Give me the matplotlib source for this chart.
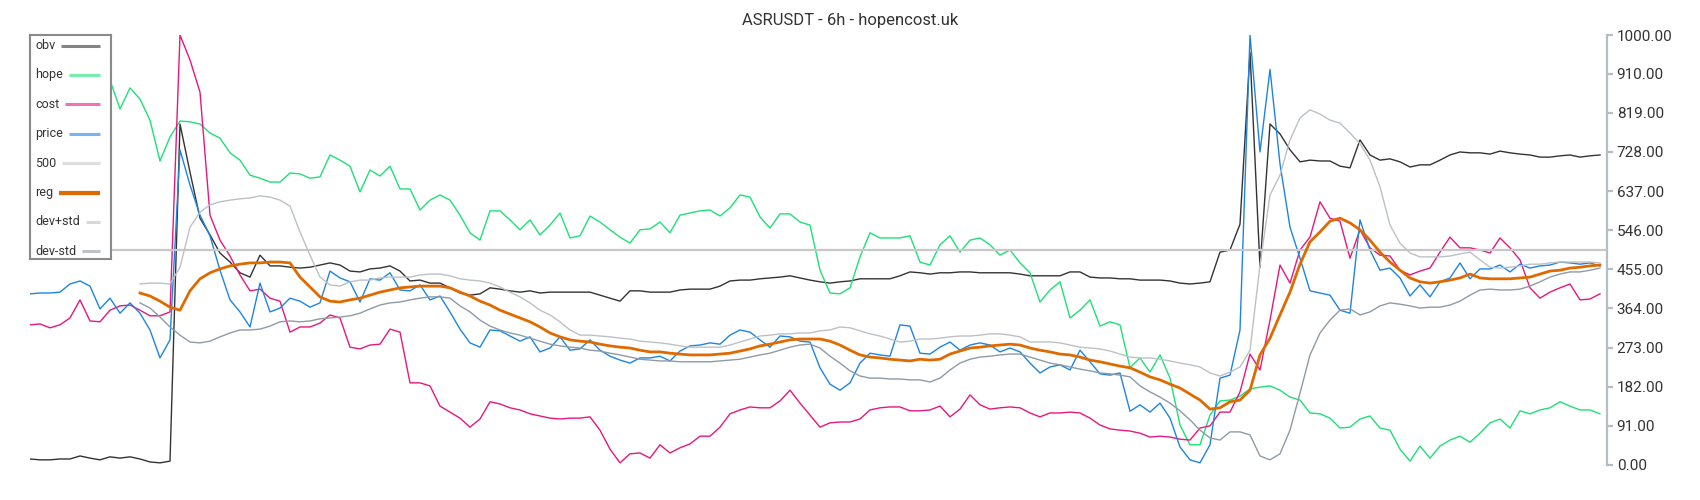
import numpy as np
import matplotlib
matplotlib.use("Agg")
import matplotlib.pyplot as plt
from matplotlib.ticker import FormatStrFormatter

plt.rcParams['font.family'] = ['Roboto', 'DejaVu Sans']

title = "ASRUSDT - 6h - hopencost.uk"
yticks = [0, 91, 182, 273, 364, 455, 546, 637, 728, 819, 910, 1000]

# every value is one sample, spaced evenly along the time axis
obv = [14, 12, 12, 14, 14, 21, 16, 12,
       19, 16, 19, 14, 7, 5, 9, 793, 681, 574,
       535, 493, 472, 447, 437, 488, 463, 463, 460, 458,
       460, 465, 470, 465, 451, 449, 456, 458, 463, 451,
       428, 430, 423, 423, 412, 400, 395, 398, 412, 409,
       405, 402, 405, 400, 402, 402, 402, 402, 402, 395,
       388, 381, 405, 405, 402, 402, 402, 407, 409, 409,
       409, 416, 428, 430, 430, 433, 435, 437, 440, 435,
       430, 426, 423, 426, 428, 433, 433, 433, 433, 440,
       449, 447, 444, 447, 447, 449, 449, 447, 447, 447,
       447, 444, 440, 440, 440, 440, 449, 449, 437, 435,
       435, 433, 433, 430, 430, 430, 428, 423, 421, 423,
       426, 495, 500, 560, 960, 460, 793, 770, 733, 705,
       709, 707, 707, 695, 691, 756, 721, 709, 712, 705,
       693, 698, 698, 709, 721, 728, 726, 726, 723, 730,
       726, 723, 721, 716, 716, 719, 721, 716, 719, 721]

hope = [880, 870, 885, 860, 875, 865, 890, 878,
        895, 828, 877, 851, 802, 707, 763, 800, 798, 793,
        772, 760, 726, 709, 674, 667, 658, 658, 679, 677,
        667, 670, 721, 709, 695, 635, 686, 672, 695, 642,
        642, 593, 616, 628, 616, 581, 540, 523, 591, 591,
        570, 547, 570, 535, 558, 586, 528, 533, 579, 565,
        547, 530, 516, 547, 549, 565, 540, 581, 586, 591,
        593, 579, 598, 628, 623, 577, 551, 584, 584, 565,
        558, 453, 400, 398, 412, 484, 540, 528, 528, 528,
        533, 472, 465, 512, 533, 495, 523, 528, 512, 488,
        500, 470, 447, 379, 407, 426, 342, 360, 384, 323,
        333, 326, 226, 249, 216, 256, 202, 93, 47, 47,
        116, 149, 151, 160, 177, 181, 184, 174, 158, 151,
        121, 119, 109, 86, 88, 107, 114, 86, 81, 37,
        9, 44, 16, 44, 58, 67, 53, 74, 98, 107,
        86, 126, 119, 128, 133, 147, 137, 128, 128, 119]

cost = [326, 328, 319, 326, 342, 384, 335, 333,
        360, 370, 372, 360, 347, 347, 356, 1000, 942, 867,
        581, 523, 486, 442, 405, 409, 388, 381, 309, 321,
        321, 330, 349, 342, 274, 270, 279, 281, 316, 309,
        191, 191, 184, 137, 123, 109, 88, 107, 147, 142,
        133, 128, 119, 114, 109, 107, 109, 109, 112, 81,
        37, 5, 26, 28, 16, 47, 28, 40, 49, 67,
        67, 88, 119, 128, 135, 133, 133, 149, 174, 144,
        116, 88, 98, 100, 100, 107, 128, 133, 135, 135,
        126, 126, 128, 137, 112, 130, 163, 140, 130, 133,
        135, 133, 121, 112, 121, 121, 123, 121, 109, 93,
        84, 81, 79, 74, 65, 67, 65, 60, 58, 86,
        91, 123, 123, 170, 258, 221, 337, 465, 423, 500,
        530, 612, 574, 567, 481, 547, 505, 488, 486, 453,
        442, 451, 458, 495, 530, 505, 505, 500, 493, 528,
        505, 477, 412, 388, 402, 412, 421, 384, 386, 398]

price = [398, 400, 400, 402, 421, 428, 416, 363,
         388, 353, 377, 353, 314, 249, 291, 733, 651, 581,
         533, 453, 384, 356, 321, 423, 356, 365, 388, 381,
         367, 377, 451, 435, 426, 379, 433, 430, 447, 407,
         405, 419, 384, 393, 356, 316, 284, 274, 314, 312,
         300, 288, 298, 263, 272, 298, 267, 270, 291, 267,
         253, 244, 237, 249, 249, 253, 242, 265, 277, 279,
         284, 281, 302, 314, 309, 291, 274, 300, 298, 288,
         286, 226, 188, 174, 191, 237, 260, 256, 253, 326,
         323, 260, 258, 274, 286, 267, 279, 284, 279, 263,
         272, 263, 237, 214, 228, 233, 221, 267, 240, 212,
         209, 214, 125, 140, 123, 144, 109, 42, 12, 5,
         47, 202, 209, 314, 1000, 728, 920, 700, 553, 481,
         405, 400, 395, 360, 353, 570, 500, 453, 458, 435,
         393, 419, 391, 426, 435, 470, 433, 456, 456, 465,
         449, 467, 458, 463, 465, 472, 470, 467, 470, 463]

level = 500

# the regression and its bands begin later in the series
band_start = 11
reg = [400, 393, 381, 367, 360, 405, 433,
       447, 456, 463, 467, 470, 470, 472, 472, 470, 437,
       414, 391, 381, 379, 384, 388, 395, 402, 407, 412,
       414, 416, 416, 416, 412, 402, 393, 381, 372, 360,
       351, 342, 333, 321, 307, 298, 291, 288, 286, 281,
       277, 274, 272, 267, 263, 263, 260, 258, 256, 256,
       256, 258, 260, 265, 270, 277, 281, 286, 291, 293,
       293, 293, 288, 279, 267, 256, 251, 249, 246, 244,
       242, 246, 244, 246, 258, 265, 272, 274, 277, 279,
       281, 279, 272, 267, 263, 258, 256, 251, 244, 240,
       235, 230, 226, 216, 205, 198, 188, 179, 165, 151,
       130, 133, 147, 151, 174, 256, 295, 349, 402, 467,
       519, 542, 567, 574, 563, 547, 523, 495, 472, 453,
       435, 426, 423, 426, 430, 435, 444, 435, 433, 433,
       433, 435, 437, 444, 451, 453, 458, 460, 463, 465]

dev_plus = [421, 423, 423, 421, 460, 553, 588,
            605, 612, 616, 619, 621, 626, 623, 616, 602, 542,
            488, 437, 419, 416, 426, 430, 430, 435, 437, 437,
            437, 442, 444, 444, 440, 433, 430, 428, 423, 414,
            402, 391, 377, 360, 349, 333, 314, 302, 302, 300,
            298, 295, 293, 288, 286, 284, 281, 277, 274, 274,
            274, 274, 279, 286, 293, 300, 302, 305, 305, 307,
            307, 312, 314, 321, 319, 312, 305, 300, 293, 286,
            288, 293, 293, 295, 298, 300, 300, 302, 305, 305,
            302, 298, 286, 286, 286, 284, 279, 274, 272, 270,
            265, 258, 251, 249, 249, 246, 242, 237, 233, 228,
            214, 207, 216, 228, 267, 465, 628, 674, 756, 807,
            826, 816, 802, 795, 772, 747, 709, 647, 558, 516,
            493, 484, 484, 484, 486, 491, 495, 477, 460, 458,
            460, 463, 467, 467, 470, 472, 472, 472, 472, 470]

dev_minus = [377, 365, 344, 321, 302, 286, 284,
             288, 298, 307, 314, 314, 316, 323, 333, 335, 333,
             335, 340, 342, 344, 347, 353, 363, 372, 377, 379,
             384, 388, 391, 391, 388, 370, 356, 337, 323, 314,
             307, 302, 295, 288, 281, 277, 274, 272, 267, 265,
             260, 256, 251, 246, 244, 242, 242, 240, 240, 240,
             240, 242, 244, 246, 251, 256, 260, 267, 274, 279,
             281, 272, 253, 237, 219, 207, 202, 202, 200, 200,
             198, 198, 193, 202, 221, 237, 246, 251, 253, 256,
             258, 258, 251, 244, 237, 233, 228, 223, 219, 214,
             212, 209, 205, 184, 170, 158, 144, 126, 105, 81,
             63, 58, 77, 77, 70, 21, 12, 26, 81, 167,
             256, 307, 337, 360, 363, 349, 356, 370, 377, 374,
             370, 365, 367, 367, 372, 381, 395, 407, 409, 407,
             407, 409, 416, 426, 437, 444, 449, 449, 453, 458]

labels = ['obv', 'hope', 'cost', 'price', '500', 'reg', 'dev+std', 'dev-std']
colors = ['#333333', '#1ee077', '#e6177f', '#1e84e3', '#c8c8c8', '#df6a00', '#bcc1c5', '#8e9ba5']
widths = [1.0, 1.0, 1.0, 1.0, 1.6, 2.0, 1.0, 1.0]


def idx(vals, start=0):
    return np.arange(start, start + len(vals))


fig = plt.figure(figsize=(17, 5), dpi=100)
ax = fig.add_axes([30 / 1700, 35 / 500, 1577 / 1700, 430 / 500])

ax.plot(idx(obv), obv, color=colors[0], lw=widths[0])
ax.plot(idx(hope), hope, color=colors[1], lw=widths[1])
ax.plot(idx(cost), cost, color=colors[2], lw=widths[2])
ax.plot(idx(price), price, color=colors[3], lw=widths[3])
ax.axhline(level, color=colors[4], lw=widths[4])
ax.plot(idx(reg, band_start), reg, color=colors[5], lw=widths[5])
ax.plot(idx(dev_plus, band_start), dev_plus, color=colors[6], lw=widths[6])
ax.plot(idx(dev_minus, band_start), dev_minus, color=colors[7], lw=widths[7])

ax.set_xlim(0, 157.7)
ax.set_ylim(0, 1000)
ax.set_xticks([])
ax.set_yticks(yticks)
ax.yaxis.set_major_formatter(FormatStrFormatter('%.2f'))
ax.yaxis.tick_right()
for s in ['left', 'top', 'bottom']:
    ax.spines[s].set_visible(False)
ax.spines['right'].set_color('#b5bec6')
ax.spines['right'].set_linewidth(1.6)
ax.tick_params(axis='y', colors='#b5bec6', labelcolor='#333333', length=4,
               width=1.6, pad=3, labelsize=11)

fig.text(0.5, 1 - 21 / 500, title, ha='center', va='center', fontsize=12, color='#333333')

# legend: label on the left, line filling the rest of the row
lax = fig.add_axes([30 / 1700, 1 - 259 / 500, 81 / 1700, 224 / 500], zorder=5)
lax.set_xlim(0, 81)
lax.set_ylim(224, 0)
lax.set_xticks([])
lax.set_yticks([])
lax.set_facecolor('white')
for s in lax.spines.values():
    s.set_color('#8a8a8a')
    s.set_linewidth(1.5)

texts = []
for i, lab in enumerate(labels):
    texts.append(lax.text(5, 10.5 + i * 29.4, lab, ha='left', va='center',
                          fontsize=9, color='#333333'))
fig.canvas.draw()
renderer = fig.canvas.get_renderer()
inv = lax.transData.inverted()
for i, t in enumerate(texts):
    bb = t.get_window_extent(renderer)
    x_end = inv.transform((bb.x1, bb.y0))[0]
    y = 10.5 + i * 29.4
    lax.plot([x_end + 6, 70], [y, y], color=colors[i],
             lw=3 if i == 5 else 2.2, alpha=1 if i == 5 else 0.6,
             solid_capstyle='butt')

fig.savefig('out.png', dpi=100, facecolor='white')
